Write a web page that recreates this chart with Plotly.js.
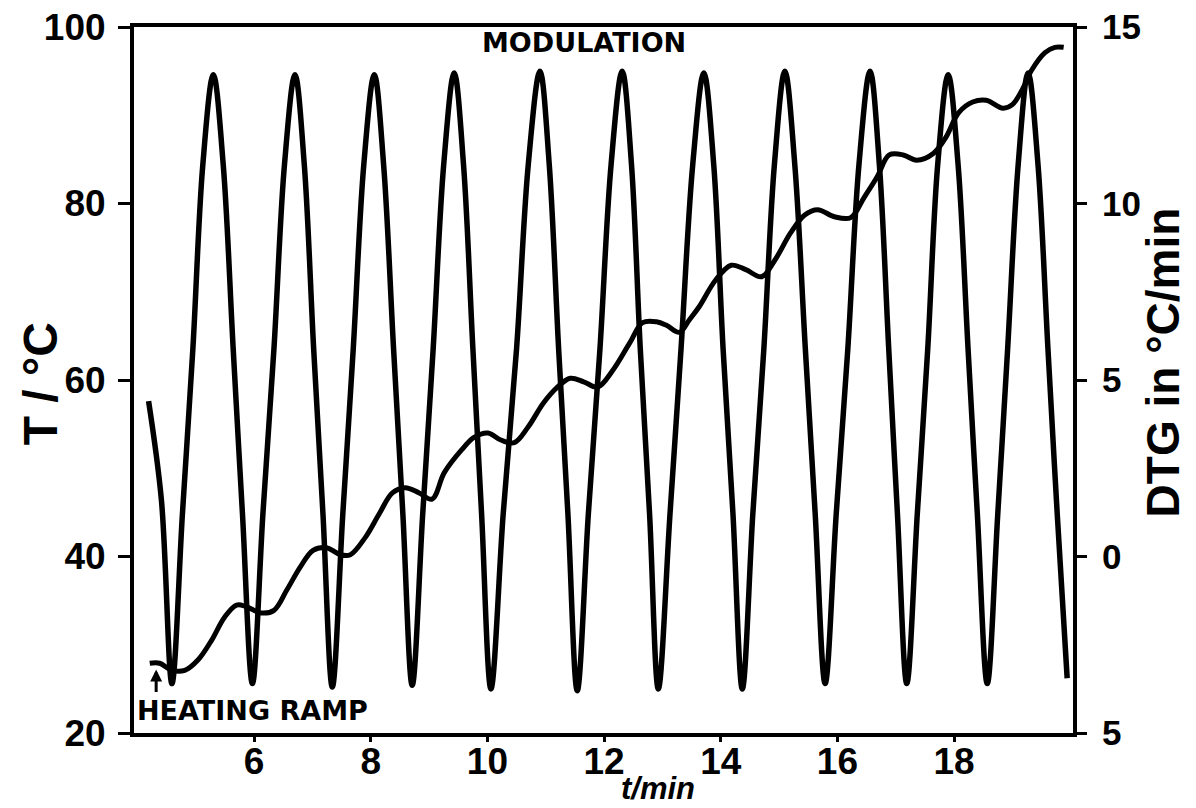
<!DOCTYPE html>
<html>
<head>
<meta charset="utf-8">
<script src="https://cdn.plot.ly/plotly-3.0.1.min.js"></script>
<style>
  html, body { margin: 0; padding: 0; background: #ffffff; }
  #chart { width: 1196px; height: 808px; }
</style>
</head>
<body>
<div id="chart"></div>
<script>
// ---- Heating ramp (temperature, left axis, °C) ----
const rampTime = [4.21, 4.38, 4.59, 4.81, 5.04, 5.27, 5.49, 5.70, 5.87, 6.12,
  6.34, 6.56, 6.79, 7.01, 7.24, 7.48, 7.65, 7.91, 8.15, 8.37,
  8.59, 8.83, 9.05, 9.26, 9.56, 9.77, 10.01, 10.23, 10.46, 10.70,
  10.96, 11.20, 11.42, 11.65, 11.89, 12.15, 12.44, 12.66, 12.90, 13.07,
  13.29, 13.46, 13.63, 13.91, 14.18, 14.43, 14.70, 14.93, 15.20, 15.44,
  15.66, 15.95, 16.23, 16.46, 16.68, 16.89, 17.13, 17.36, 17.65, 17.86,
  18.08, 18.32, 18.55, 18.84, 19.00, 19.17, 19.33, 19.56, 19.73, 19.88];
const rampTemp = [27.9, 27.9, 27.1, 27.1, 28.3, 30.5, 33.1, 34.5, 34.3, 33.6,
  33.9, 36.2, 38.8, 40.7, 41.0, 40.2, 40.2, 42.2, 44.9, 47.2,
  47.8, 47.2, 46.5, 49.5, 52.1, 53.5, 54.0, 53.2, 52.9, 54.7,
  57.4, 59.2, 60.2, 59.8, 59.2, 61.1, 64.2, 66.5, 66.6, 66.2,
  65.4, 66.8, 68.3, 71.3, 73.0, 72.5, 71.7, 73.6, 76.7, 78.7,
  79.3, 78.5, 78.4, 80.7, 83.0, 85.5, 85.5, 84.9, 85.7, 87.5,
  90.3, 91.5, 91.7, 90.8, 91.2, 92.9, 95.1, 97.1, 97.7, 97.7];

// ---- Modulation (DTG, right axis, °C/min) ----
const modTime = [4.19, 4.41, 4.59,
  4.77, 4.95, 5.12, 5.30, 5.47, 5.64, 5.80, 5.97,
  6.15, 6.34, 6.52, 6.70, 6.86, 7.02, 7.18, 7.34,
  7.52, 7.70, 7.88, 8.06, 8.22, 8.39, 8.55, 8.71,
  8.89, 9.07, 9.25, 9.43, 9.59, 9.75, 9.90, 10.06,
  10.27, 10.50, 10.70, 10.90, 11.06, 11.22, 11.38, 11.54,
  11.73, 11.93, 12.12, 12.31, 12.47, 12.62, 12.78, 12.93,
  13.13, 13.32, 13.52, 13.71, 13.88, 14.04, 14.21, 14.37,
  14.55, 14.74, 14.92, 15.10, 15.27, 15.45, 15.62, 15.79,
  15.98, 16.18, 16.37, 16.56, 16.72, 16.88, 17.03, 17.19,
  17.37, 17.55, 17.72, 17.90, 18.07, 18.24, 18.40, 18.57,
  18.75, 18.92, 19.10, 19.27, 19.44, 19.61, 19.77, 19.94];
const modDTG = [4.4, 1.6, -3.6,
  1.2, 5.9, 11.1, 13.65, 11.1, 5.9, 1.2, -3.6,
  1.2, 5.9, 11.1, 13.65, 11.1, 5.9, 1.2, -3.7,
  1.2, 5.9, 11.1, 13.65, 11.1, 5.9, 1.2, -3.65,
  1.2, 5.9, 11.1, 13.7, 11.1, 5.9, 1.2, -3.75,
  1.2, 5.9, 11.1, 13.75, 11.1, 5.9, 1.2, -3.8,
  1.2, 5.9, 11.1, 13.75, 11.1, 5.9, 1.2, -3.75,
  1.2, 5.9, 11.1, 13.7, 11.1, 5.9, 1.2, -3.75,
  1.2, 5.9, 11.1, 13.75, 11.1, 5.9, 1.2, -3.6,
  1.2, 5.9, 11.1, 13.75, 11.1, 5.9, 1.2, -3.6,
  1.2, 5.9, 11.1, 13.65, 11.1, 5.9, 1.2, -3.6,
  1.2, 5.9, 11.1, 13.7, 11.1, 5.9, 1.2, -3.45];

// ---- Tick labels ----
const xTicks = [6, 8, 10, 12, 14, 16, 18];
const yLeftTicks = [20, 40, 60, 80, 100];
const yRightTicks = [-5, 0, 5, 10, 15];
const yRightTickText = ['5', '0', '5', '10', '15'];

const FONT = '"Liberation Sans", Arial, Helvetica, sans-serif';
const HEAVY = '"DejaVu Sans", "Liberation Sans", sans-serif';

const traces = [
  {
    x: modTime, y: modDTG, yaxis: 'y2', type: 'scatter', mode: 'lines',
    name: 'Modulation',
    line: { color: '#000000', width: 5.5, shape: 'spline', smoothing: 1 }
  },
  {
    x: rampTime, y: rampTemp, yaxis: 'y', type: 'scatter', mode: 'lines',
    name: 'Heating ramp',
    line: { color: '#000000', width: 5, shape: 'spline', smoothing: 1 }
  }
];

const layout = {
  width: 1196, height: 808,
  margin: { l: 134, r: 123, t: 27, b: 75 },
  paper_bgcolor: '#ffffff', plot_bgcolor: '#ffffff',
  showlegend: false,
  xaxis: {
    range: [3.94, 20.04], tickvals: xTicks,
    showgrid: false, zeroline: false,
    showline: true, mirror: true, linecolor: '#000', linewidth: 4,
    ticks: 'outside', ticklen: 5, tickwidth: 3, tickcolor: '#000',
    tickfont: { family: FONT, size: 37, color: '#000', weight: 700 },
    ticklabelstandoff: -12
  },
  yaxis: {
    range: [20, 100], tickvals: yLeftTicks,
    showgrid: false, zeroline: false,
    showline: true, linecolor: '#000', linewidth: 4,
    ticks: 'outside', ticklen: 12, tickwidth: 3, tickcolor: '#000',
    tickfont: { family: FONT, size: 37, color: '#000', weight: 700 },
    ticklabelstandoff: 5
  },
  yaxis2: {
    range: [-5, 15], tickvals: yRightTicks, ticktext: yRightTickText,
    overlaying: 'y', side: 'right',
    showgrid: false, zeroline: false,
    showline: true, linecolor: '#000', linewidth: 4,
    ticks: 'outside', ticklen: 10, tickwidth: 3, tickcolor: '#000',
    tickfont: { family: FONT, size: 35, color: '#000', weight: 700 },
    ticklabelstandoff: 8
  },
  annotations: [
    { text: 'MODULATION', x: 11.66, y: 98.3, xref: 'x', yref: 'y',
      showarrow: false, xanchor: 'center', yanchor: 'middle',
      font: { family: HEAVY, size: 27, color: '#000', weight: 700 } },
    { text: 'HEATING RAMP', x: 5.98, y: 22.5, xref: 'x', yref: 'y',
      showarrow: false, xanchor: 'center', yanchor: 'middle',
      font: { family: HEAVY, size: 27, color: '#000', weight: 700 } },
    { text: '', x: 4.32, y: 27.2, xref: 'x', yref: 'y',
      showarrow: true, ax: 0, ay: 24, arrowhead: 2, arrowsize: 0.8,
      arrowwidth: 3, arrowcolor: '#000' },
    { text: 'T / °C', x: -0.100, y: 0.494, xref: 'paper', yref: 'paper',
      showarrow: false, textangle: -90, xanchor: 'center', yanchor: 'middle',
      font: { family: FONT, size: 48, color: '#000', weight: 700 } },
    { text: 'DTG in °C/min', x: 1.0959, y: 0.525, xref: 'paper', yref: 'paper',
      showarrow: false, textangle: -90, xanchor: 'center', yanchor: 'middle',
      font: { family: FONT, size: 46, color: '#000', weight: 700 } },
    { text: '<i>t/min</i>', x: 0.5580, y: -0.0790, xref: 'paper', yref: 'paper',
      showarrow: false, xanchor: 'center', yanchor: 'middle',
      font: { family: FONT, size: 31, color: '#000', weight: 700 } }
  ]
};

Plotly.newPlot('chart', traces, layout, { staticPlot: true, displayModeBar: false });
</script>
</body>
</html>
